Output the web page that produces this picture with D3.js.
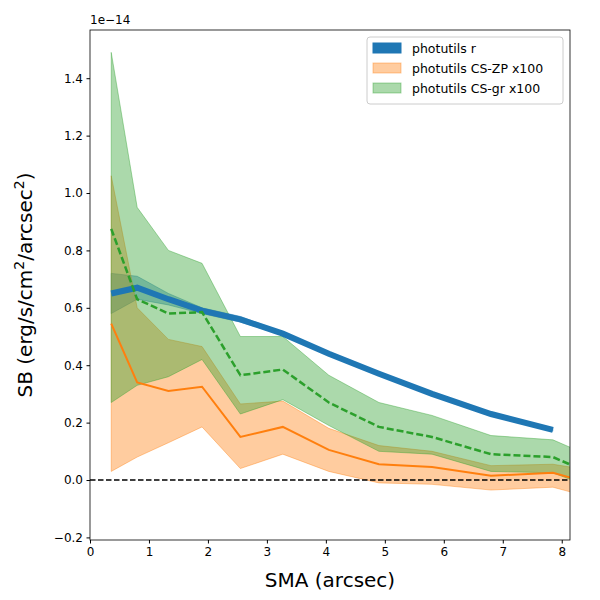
<!DOCTYPE html>
<html><head><meta charset="utf-8">
<script src="https://cdn.jsdelivr.net/npm/d3@7"></script>
<style>body{margin:0;background:#fff;font-family:"DejaVu Sans",sans-serif}</style>
</head><body><svg id="c" width="600" height="600"></svg>
<script>
// SB profiles, units of 1e-14
var sma = [0.36, 0.8, 1.33, 1.9, 2.55, 3.27, 4.05, 4.9, 5.8, 6.8, 7.85, 8.3];
var rMid = [0.65, 0.67, 0.63, 0.59, 0.56, 0.51, 0.44, 0.37, 0.30, 0.23, 0.175];
var rHi  = [0.72, 0.71, 0.65, 0.60, 0.57, 0.515, 0.445, 0.375, 0.305, 0.235, 0.18];
var rLo  = [0.58, 0.63, 0.61, 0.58, 0.55, 0.505, 0.435, 0.365, 0.295, 0.225, 0.17];
var zpMid = [0.545, 0.34, 0.31, 0.325, 0.15, 0.185, 0.105, 0.055, 0.045, 0.015, 0.025, 0.0];
var zpHi  = [1.06, 0.60, 0.49, 0.465, 0.265, 0.275, 0.18, 0.12, 0.10, 0.05, 0.055, 0.04];
var zpLo  = [0.03, 0.08, 0.13, 0.185, 0.04, 0.09, 0.03, -0.01, -0.015, -0.035, -0.025, -0.05];
var grMid = [0.875, 0.63, 0.58, 0.585, 0.365, 0.385, 0.27, 0.185, 0.15, 0.09, 0.08, 0.04];
var grHi  = [1.49, 0.95, 0.80, 0.755, 0.50, 0.50, 0.365, 0.27, 0.225, 0.155, 0.14, 0.10];
var grLo  = [0.27, 0.33, 0.36, 0.42, 0.23, 0.28, 0.19, 0.10, 0.09, 0.03, 0.025, -0.01];

var L = 90, R = 570, T = 30, B = 540;
var svg = d3.select("#c");
var x = d3.scaleLinear().domain([0, 8.14]).range([L, R]);
var y = d3.scaleLinear().domain([-0.209, 1.568]).range([B, T]);

svg.append("clipPath").attr("id", "clip").append("rect")
  .attr("x", L).attr("y", T).attr("width", R - L).attr("height", B - T);
var g = svg.append("g").attr("clip-path", "url(#clip)");

function band(hi, lo, fill, stroke) {
  var a = d3.area().x((d, i) => x(sma[i])).y0((d, i) => y(lo[i])).y1((d, i) => y(hi[i]));
  g.append("path").attr("d", a(hi)).attr("fill", fill).attr("fill-opacity", 0.4)
    .attr("stroke", stroke).attr("stroke-opacity", 0.4);
}
function line(vals, color, w, dash) {
  var l = d3.line().x((d, i) => x(sma[i])).y(d => y(d));
  g.append("path").attr("d", l(vals)).attr("fill", "none").attr("stroke", color)
    .attr("stroke-width", w).attr("stroke-dasharray", dash || null);
}
band(rHi, rLo, "#1f77b4", "#1f77b4");
band(zpHi, zpLo, "#ff7f0e", "#ff7f0e");
band(grHi, grLo, "#2ca02c", "#2ca02c");
line(rMid, "#1f77b4", 6);
line(zpMid, "#ff7f0e", 2);
line(grMid, "#2ca02c", 2.5, "7,3");
g.append("line").attr("x1", L).attr("x2", R).attr("y1", y(0)).attr("y2", y(0))
  .attr("stroke", "#000").attr("stroke-width", 1.5).attr("stroke-dasharray", "5.5,2.5");

svg.append("g").attr("transform", "translate(0," + B + ")")
  .call(d3.axisBottom(x).tickValues([0,1,2,3,4,5,6,7,8]).tickSizeOuter(0).tickSize(3.5).tickPadding(3.5))
  .attr("font-size", 12);
svg.append("g").attr("transform", "translate(" + L + ",0)")
  .call(d3.axisLeft(y).tickValues([-0.2,0,0.2,0.4,0.6,0.8,1.0,1.2,1.4]).tickFormat(d => d3.format(".1f")(d).replace("-", "\u2212")).tickSizeOuter(0).tickSize(3.5).tickPadding(3.5))
  .attr("font-size", 12);
svg.selectAll(".tick text").attr("font-family", "DejaVu Sans").attr("fill", "#000");
svg.selectAll(".domain").remove();
svg.append("rect").attr("x", L).attr("y", T).attr("width", R - L).attr("height", B - T)
  .attr("fill", "none").attr("stroke", "#000").attr("stroke-width", 0.8);

svg.append("text").attr("x", L).attr("y", 24).attr("font-size", 12).text("1e\u221214");
svg.append("text").attr("x", (L + R) / 2).attr("y", 587).attr("text-anchor", "middle")
  .attr("font-size", 20).text("SMA (arcsec)");
var yl = svg.append("text").attr("transform", "translate(32," + (T + B) / 2 + ") rotate(-90)")
  .attr("text-anchor", "middle").attr("font-size", 20);
yl.append("tspan").text("SB (erg/s/cm");
yl.append("tspan").attr("dy", -8).attr("font-size", 14).text("2");
yl.append("tspan").attr("dy", 8).text("/arcsec");
yl.append("tspan").attr("dy", -8).attr("font-size", 14).text("2");
yl.append("tspan").attr("dy", 8).text(")");

// legend
var lg = svg.append("g").attr("transform", "translate(367,37)");
lg.append("rect").attr("width", 196).attr("height", 67).attr("rx", 3).attr("fill", "#fff")
  .attr("fill-opacity", 0.8).attr("stroke", "#ccc");
[["photutils r", "#1f77b4", 1], ["photutils CS-ZP x100", "#ff7f0e", 0.4], ["photutils CS-gr x100", "#2ca02c", 0.4]]
  .forEach(function (d, i) {
    lg.append("rect").attr("x", 6).attr("y", 6 + i * 20).attr("width", 28).attr("height", 10)
      .attr("fill", d[1]).attr("fill-opacity", d[2]).attr("stroke", d[1]).attr("stroke-opacity", d[2]);
    lg.append("text").attr("x", 45).attr("y", 16 + i * 20).attr("font-size", 12.5).text(d[0]);
  });
</script></body></html>
